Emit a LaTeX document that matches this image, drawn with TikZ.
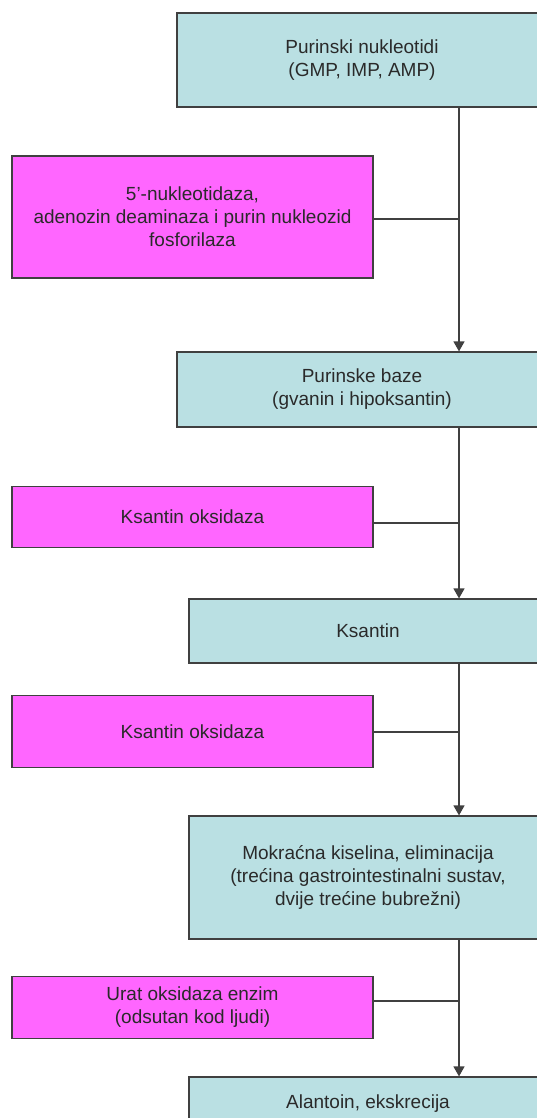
\documentclass[tikz,border=0pt]{standalone}
\usepackage{fontspec}
\setmainfont{Liberation Sans}
\usetikzlibrary{arrows.meta}
\definecolor{cyanbox}{HTML}{BAE0E3}
\definecolor{magbox}{HTML}{FF66FF}
\definecolor{txt}{HTML}{2A2A2A}
\definecolor{edge}{HTML}{404040}
\tikzset{
  basebox/.style={draw=edge, line width=1.2pt, rectangle, align=center, text=txt,
    font=\fontsize{19}{23}\selectfont, inner sep=0pt},
  cbox/.style={basebox, fill=cyanbox},
  mbox/.style={basebox, fill=magbox, minimum width=361pt},
  flow/.style={draw=edge, line width=1.3pt, -{Triangle[width=11pt,length=10pt]}},
  link/.style={draw=edge, line width=1.3pt}
}
\begin{document}
\begin{tikzpicture}[x=1pt,y=-1pt]
\path[use as bounding box] (0,0) rectangle (537,1118);
\clip (0,0) rectangle (537,1118);
\fill[white] (0,0) rectangle (537,1118);

\node[cbox, minimum width=370pt, minimum height=94pt] (n1) at (362,60) {Purinski nukleotidi\\(GMP, IMP, AMP)};
\node[mbox, minimum height=122pt] (m1) at (192.5,217) {5'-nukleotidaza,\\adenozin deaminaza i purin nukleozid\\fosforilaza};
\node[cbox, minimum width=370pt, minimum height=75pt] (n2) at (362,389.5) {Purinske baze\\(gvanin i hipoksantin)};
\node[mbox, minimum height=61pt] (m2) at (192.5,517) {Ksantin oksidaza};
\node[cbox, minimum width=358pt, minimum height=64pt] (n3) at (368,631) {Ksantin};
\node[mbox, minimum height=72pt] (m3) at (192.5,731.7) {Ksantin oksidaza};
\node[cbox, minimum width=358pt, minimum height=123pt] (n4) at (368,877.5) {Mokraćna kiselina, eliminacija\\(trećina gastrointestinalni sustav,\\dvije trećine bubrežni)};
\node[mbox, minimum height=62pt] (m4) at (192.5,1007.5) {Urat oksidaza enzim\\(odsutan kod ljudi)};
\node[cbox, minimum width=358pt, minimum height=54pt] (n5) at (368,1104) {Alantoin, ekskrecija};

\coordinate (j1) at (459,219);
\coordinate (j2) at (459,523);
\coordinate (j3) at (459,732);
\coordinate (j4) at (459,1001);

\draw[flow] (n1.south -| j1) -- (n2.north -| j1);
\draw[flow] (n2.south -| j2) -- (n3.north -| j2);
\draw[flow] (n3.south -| j3) -- (n4.north -| j3);
\draw[flow] (n4.south -| j4) -- (n5.north -| j4);

\draw[link] (m1.east |- j1) -- (j1);
\draw[link] (m2.east |- j2) -- (j2);
\draw[link] (m3.east |- j3) -- (j3);
\draw[link] (m4.east |- j4) -- (j4);
\end{tikzpicture}
\end{document}
